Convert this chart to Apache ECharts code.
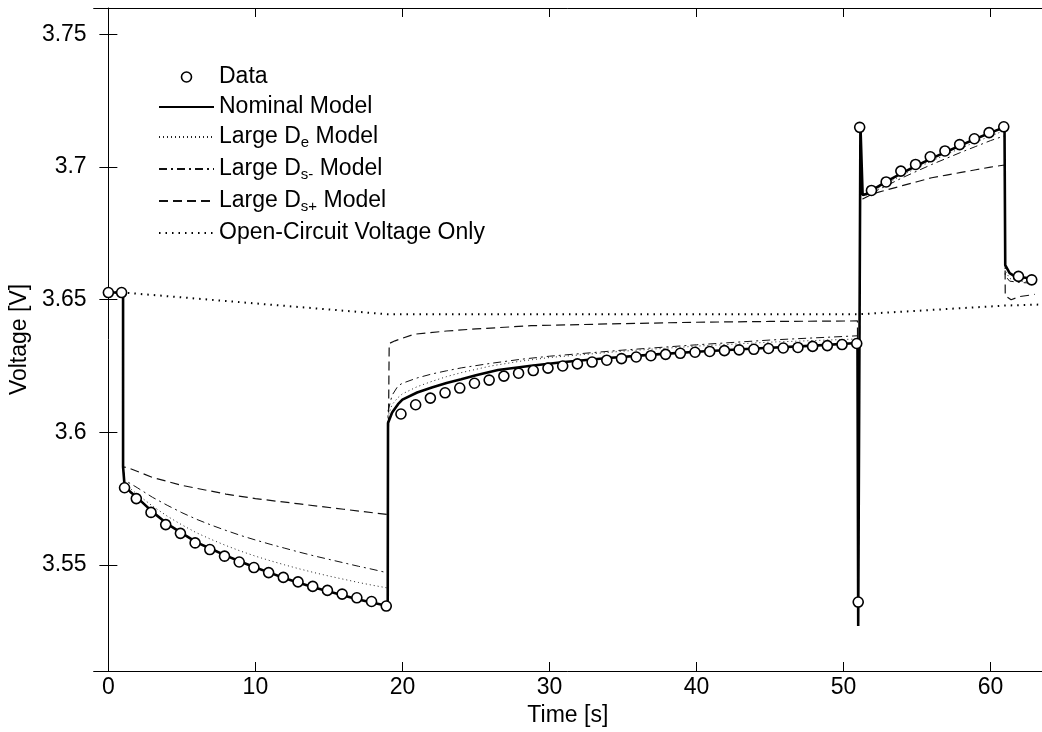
<!DOCTYPE html>
<html>
<head>
<meta charset="utf-8">
<script src="https://cdn.jsdelivr.net/npm/echarts@6/dist/echarts.min.js"></script>
<style>
  html, body { margin: 0; padding: 0; background: #fff; }
  #chart { width: 1042px; height: 732px; }
</style>
</head>
<body>
<div id="chart"></div>
<script>
// Measured cell voltage (circles), sampled once per second
const dataT = [0, 0.9, 1.1, 1.9, 2.9, 3.9, 4.9, 5.9, 6.9, 7.9, 8.9, 9.9, 10.9, 11.9, 12.9, 13.9, 14.9, 15.9, 16.9, 17.9, 18.9,
  19.9, 20.9, 21.9, 22.9, 23.9, 24.9, 25.9, 26.9, 27.9, 28.9, 29.9, 30.9, 31.9, 32.9, 33.9, 34.9, 35.9, 36.9, 37.9, 38.9,
  39.9, 40.9, 41.9, 42.9, 43.9, 44.9, 45.9, 46.9, 47.9, 48.9, 49.9, 50.9, 51.0, 51.1,
  51.9, 52.9, 53.9, 54.9, 55.9, 56.9, 57.9, 58.9, 59.9, 60.9, 61.9, 62.8];
const dataV = [3.6527, 3.6527, 3.5791, 3.5750, 3.5698, 3.5652, 3.5619, 3.5583, 3.5558, 3.5533, 3.5511, 3.5490, 3.5471, 3.5453, 3.5436, 3.5419, 3.5404, 3.5390, 3.5376, 3.5362, 3.5345,
  3.6069, 3.6104, 3.6129, 3.6149, 3.6167, 3.6185, 3.6197, 3.6212, 3.6223, 3.6233, 3.6242, 3.6250, 3.6258, 3.6265, 3.6272, 3.6278, 3.6284, 3.6289, 3.6294, 3.6298,
  3.6302, 3.6305, 3.6308, 3.6311, 3.6313, 3.6316, 3.6318, 3.6320, 3.6324, 3.6327, 3.6331, 3.6335, 3.5360, 3.7150,
  3.6912, 3.6944, 3.6985, 3.7010, 3.7039, 3.7061, 3.7085, 3.7107, 3.7130, 3.7152, 3.6588, 3.6575];

// Nominal model
const nominalT = [0, 1.0, 1.0, 1.1, 1.5, 2, 3, 4, 5, 6, 7, 8, 9, 10, 11, 12, 13, 14, 15, 16, 17, 18, 19,
  19.02, 19.3, 19.7, 20, 21, 22, 23, 24, 25, 26.5, 28.75, 31, 34, 37, 40, 44, 48, 50.95,
  51.0, 51.1, 51.15, 51.3, 51.6, 52, 53, 54, 55, 56, 57, 58, 59, 60, 60.95, 61.0, 61.3, 61.6, 62, 63];
const nominalV = [3.6527, 3.6527, 3.5870, 3.5800, 3.5775, 3.5752, 3.5700, 3.5655, 3.5620, 3.5585, 3.5560, 3.5535, 3.5512, 3.5490, 3.5470, 3.5450, 3.5432, 3.5415, 3.5400, 3.5385, 3.5370, 3.5357, 3.5345,
  3.6035, 3.6075, 3.6106, 3.6123, 3.6150, 3.6169, 3.6186, 3.6200, 3.6215, 3.6235, 3.6251, 3.6265, 3.6280, 3.6293, 3.6304, 3.6316, 3.6327, 3.6337,
  3.5270, 3.5270, 3.7160, 3.6895, 3.6900, 3.6915, 3.6948, 3.6978, 3.7006, 3.7033, 3.7058, 3.7083, 3.7107, 3.7130, 3.7150, 3.6630, 3.6600, 3.6590, 3.6585, 3.6580];

// Large D_e and Large D_s- models share one time base
const modelT = [1.0, 1.0, 1.1, 2, 3, 4, 5, 6, 7, 8, 9, 10, 11, 12, 13, 14, 15, 16, 17, 18, 19,
  19.02, 19.3, 19.7, 20, 21, 22, 23, 24, 26, 28, 30, 35, 40, 45, 50.95,
  51.0, 51.1, 51.15, 51.3, 52, 53, 54, 55, 56, 57, 58, 59, 60, 60.95, 61.0, 61.3, 62, 63];
const largeDeV = [3.6527, 3.5875, 3.5805, 3.5765, 3.5722, 3.5684, 3.5651, 3.5621, 3.5596, 3.5573, 3.5552, 3.5533, 3.5516, 3.5500, 3.5485, 3.5471, 3.5458, 3.5446, 3.5434, 3.5423, 3.5413,
  3.6060, 3.6105, 3.6131, 3.6145, 3.6172, 3.6192, 3.6210, 3.6225, 3.6250, 3.6268, 3.6282, 3.6306, 3.6325, 3.6340, 3.6352,
  3.5280, 3.5280, 3.7140, 3.6890, 3.6910, 3.6940, 3.6970, 3.6997, 3.7023, 3.7048, 3.7072, 3.7095, 3.7117, 3.7138, 3.6610, 3.6580, 3.6570, 3.6565];
const largeDsMinusV = [3.6527, 3.5880, 3.5820, 3.5790, 3.5755, 3.5725, 3.5697, 3.5672, 3.5650, 3.5630, 3.5611, 3.5594, 3.5578, 3.5563, 3.5548, 3.5534, 3.5521, 3.5508, 3.5495, 3.5483, 3.5470,
  3.6080, 3.6140, 3.6175, 3.6185, 3.6205, 3.6220, 3.6232, 3.6243, 3.6260, 3.6275, 3.6287, 3.6310, 3.6330, 3.6348, 3.6364,
  3.5290, 3.5290, 3.7120, 3.6890, 3.6905, 3.6932, 3.6960, 3.6985, 3.7010, 3.7033, 3.7056, 3.7078, 3.7100, 3.7118, 3.6590, 3.6570, 3.6565, 3.6562];

// Large D_s+ model
const largeDsPlusT = [1.0, 1.0, 1.4, 3, 5, 8, 10, 13, 16, 19, 19.1, 19.5, 20.8, 23, 25, 28.75, 35, 40, 45, 50.95,
  51.0, 51.1, 51.15, 51.3, 52, 53, 54, 55, 56, 57, 58, 59, 60, 60.95, 61.0, 61.4, 62, 63];
const largeDsPlusV = [3.6527, 3.5870, 3.5865, 3.5830, 3.5800, 3.5767, 3.5750, 3.5730, 3.5710, 3.5690,
  3.6335, 3.6345, 3.6370, 3.6382, 3.6390, 3.6402, 3.6410, 3.6415, 3.6418, 3.6420,
  3.5300, 3.5300, 3.7100, 3.6880, 3.6900, 3.6915, 3.6930, 3.6945, 3.6960, 3.6970, 3.6980, 3.6990, 3.7000, 3.7008,
  3.6515, 3.6500, 3.6512, 3.6520];

// Open-circuit voltage only
const ocvT = [0, 1, 19, 51, 61, 63.5];
const ocvV = [3.6527, 3.6527, 3.6445, 3.6445, 3.6478, 3.6482];

// Axis ticks
const xTicks = [0, 10, 20, 30, 40, 50, 60];
const yTicks = [3.55, 3.6, 3.65, 3.7, 3.75];

const zip = (t, v) => t.map((x, i) => [x, v[i]]);

const FONT = 'Liberation Sans, Arial, sans-serif';
const FS = 23;

// Legend labels with subscripts
const legendLabels = {
  'Data': '{t|Data}',
  'Nominal Model': '{t|Nominal Model}',
  'Large De Model': '{t|Large D}{s|e}{t| Model}',
  'Large Ds- Model': '{t|Large D}{s|s-}{t| Model}',
  'Large Ds+ Model': '{t|Large D}{s|s+}{t| Model}',
  'Open-Circuit Voltage Only': '{t|Open-Circuit Voltage Only}'
};

const hiddenMarker = { opacity: 0 };
const boxAxisLine = { show: true, lineStyle: { color: '#000', width: 1 } };
const tickStyle = { show: true, inside: true, length: 9, lineStyle: { color: '#000' } };

const chart = echarts.init(document.getElementById('chart'), null, { renderer: 'canvas' });
chart.setOption({
  animation: false,
  backgroundColor: '#fff',
  textStyle: { fontFamily: FONT },
  grid: { left: 92, right: 0, top: 8, bottom: 61, containLabel: false },
  legend: {
    orient: 'vertical',
    left: 153,
    top: 60,
    itemWidth: 55,
    itemHeight: 10,
    itemGap: 7,
    selectedMode: false,
    data: [
      { name: 'Data', icon: 'circle', itemStyle: { color: '#fff', borderColor: '#000', borderWidth: 1.6 } },
      { name: 'Nominal Model', itemStyle: hiddenMarker },
      { name: 'Large De Model', itemStyle: hiddenMarker },
      { name: 'Large Ds- Model', itemStyle: hiddenMarker },
      { name: 'Large Ds+ Model', itemStyle: hiddenMarker },
      { name: 'Open-Circuit Voltage Only', itemStyle: hiddenMarker }
    ],
    formatter: name => legendLabels[name],
    textStyle: {
      color: '#000',
      fontFamily: FONT,
      rich: {
        t: { fontSize: FS, fontFamily: FONT, color: '#000', lineHeight: 24, verticalAlign: 'top' },
        s: { fontSize: 15, fontFamily: FONT, color: '#000', lineHeight: 14, padding: [10, 0, 0, 0], verticalAlign: 'top' }
      }
    }
  },
  xAxis: [{
    type: 'value',
    min: -1,
    max: 63.5,
    name: 'Time [s]',
    nameLocation: 'middle',
    nameGap: 30,
    nameTextStyle: { color: '#000', fontSize: FS, fontFamily: FONT },
    axisLine: boxAxisLine,
    axisTick: Object.assign({ customValues: xTicks }, tickStyle),
    axisLabel: { show: true, customValues: xTicks, color: '#000', fontSize: FS, fontFamily: FONT, margin: 5 },
    splitLine: { show: false }
  }, {
    type: 'value',
    position: 'top',
    min: -1,
    max: 63.5,
    axisLine: boxAxisLine,
    axisTick: Object.assign({ customValues: xTicks }, tickStyle),
    axisLabel: { show: false, customValues: xTicks },
    splitLine: { show: false }
  }],
  yAxis: [{
    type: 'value',
    min: 3.51,
    max: 3.76,
    name: 'Voltage [V]',
    nameLocation: 'middle',
    nameGap: 61,
    nameTextStyle: { color: '#000', fontSize: FS, fontFamily: FONT },
    axisLine: boxAxisLine,
    axisTick: Object.assign({ customValues: yTicks }, tickStyle),
    axisLabel: { show: true, customValues: yTicks, color: '#000', fontSize: FS, fontFamily: FONT, margin: 7 },
    splitLine: { show: false }
  }, {
    type: 'value',
    position: 'right',
    min: 3.51,
    max: 3.76,
    axisLine: { show: false },
    axisTick: Object.assign({ customValues: yTicks }, tickStyle),
    axisLabel: { show: false, customValues: yTicks },
    splitLine: { show: false }
  }],
  series: [
    {
      name: 'Data',
      type: 'scatter',
      data: zip(dataT, dataV),
      symbol: 'circle',
      symbolSize: 10,
      itemStyle: { color: '#fff', borderColor: '#000', borderWidth: 1.6, opacity: 1 },
      z: 5
    },
    {
      name: 'Nominal Model',
      type: 'line',
      data: zip(nominalT, nominalV),
      symbol: 'none',
      itemStyle: { color: '#000' },
      lineStyle: { color: '#000', width: 2.6, type: 'solid' },
      z: 4
    },
    {
      name: 'Large De Model',
      type: 'line',
      data: zip(modelT, largeDeV),
      symbol: 'none',
      itemStyle: { color: '#000' },
      lineStyle: { color: '#222', width: 1, type: [1, 3] },
      z: 3
    },
    {
      name: 'Large Ds- Model',
      type: 'line',
      data: zip(modelT, largeDsMinusV),
      symbol: 'none',
      itemStyle: { color: '#000' },
      lineStyle: { color: '#111', width: 1, type: [8, 4, 2, 4] },
      z: 3
    },
    {
      name: 'Large Ds+ Model',
      type: 'line',
      data: zip(largeDsPlusT, largeDsPlusV),
      symbol: 'none',
      itemStyle: { color: '#000' },
      lineStyle: { color: '#111', width: 1.2, type: [9, 5] },
      z: 3
    },
    {
      name: 'Open-Circuit Voltage Only',
      type: 'line',
      data: zip(ocvT, ocvV),
      symbol: 'none',
      itemStyle: { color: '#000' },
      lineStyle: { color: '#000', width: 2, type: [1.5, 5] },
      z: 3
    }
  ]
});
</script>
</body>
</html>
